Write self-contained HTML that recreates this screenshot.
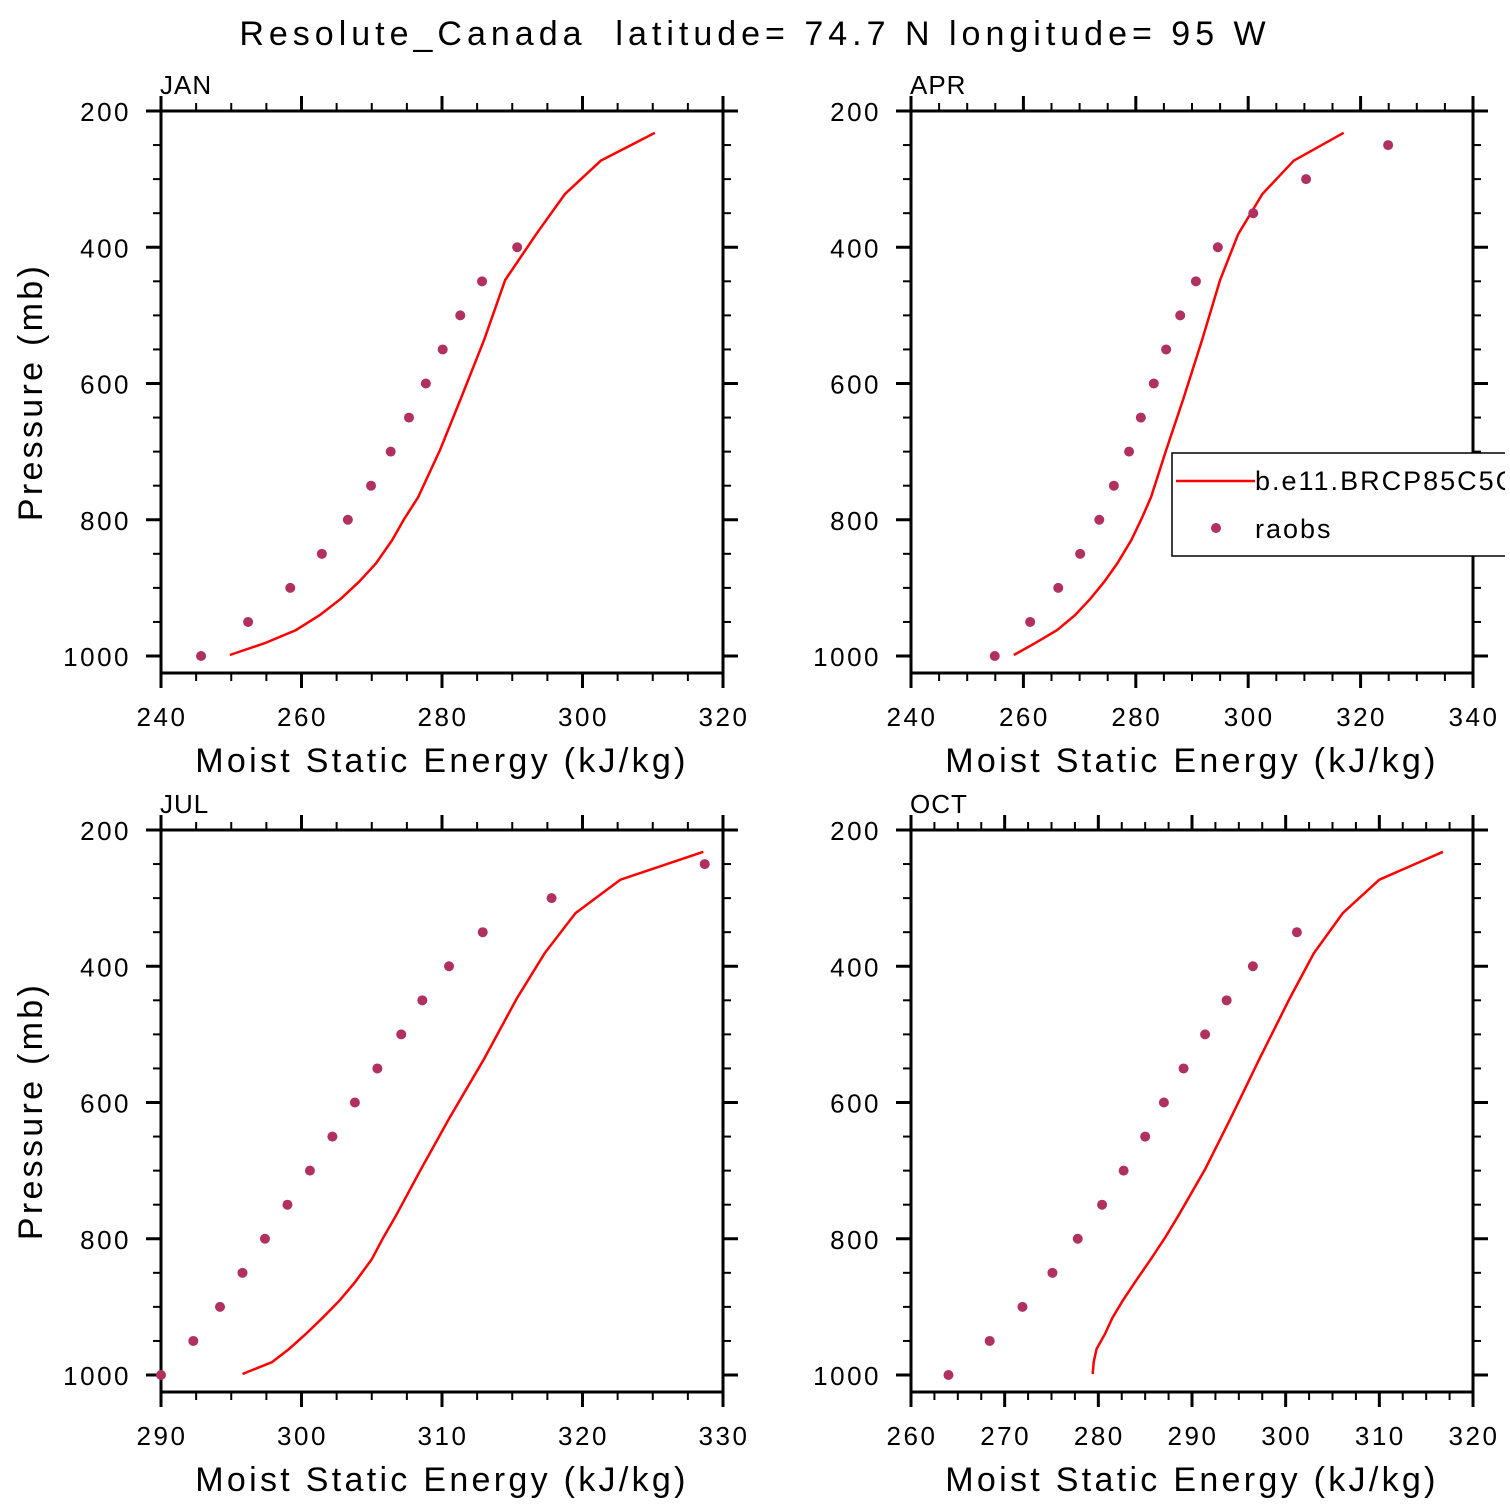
<!DOCTYPE html>
<html><head><meta charset="utf-8"><style>
html,body{margin:0;padding:0;background:#fff;}
svg{display:block;font-family:"Liberation Sans",sans-serif;}
</style></head><body>
<svg id="chart" width="1510" height="1510" viewBox="0 0 1510 1510">
<defs><clipPath id="lgclip"><rect x="0" y="0" width="1505" height="1510"/></clipPath></defs>
<text x="755" y="45" font-size="34" text-anchor="middle" letter-spacing="5" xml:space="preserve">Resolute_Canada  latitude= 74.7 N longitude= 95 W</text>
</svg>
<script>
const lineLevels=[998.5,981,962,940,916,891,864,830,799,767,698,624,536,448,381,322,273,232];
const dotLevels=[1000,950,900,850,800,750,700,650,600,550,500,450,400,350,300,250];
const janLine=[249.8,254.8,259.2,262.6,265.6,268.2,270.6,272.9,274.6,276.6,279.7,282.6,286.0,289.0,293.4,297.5,302.6,310.3];
const janDots=[245.7,252.4,258.4,262.9,266.6,269.9,272.7,275.3,277.7,280.1,282.6,285.7,290.7];
const aprLine=[258.3,262.1,266.0,269.2,271.9,274.4,276.7,279.2,281.0,282.7,285.4,288.4,291.8,295.0,298.2,302.5,308.1,317.0];
const aprDots=[254.9,261.2,266.2,270.1,273.5,276.1,278.8,280.9,283.2,285.4,287.9,290.7,294.6,300.9,310.3,324.9];
const julLine=[295.8,297.9,299.1,300.3,301.5,302.7,303.8,305.0,305.8,306.7,308.5,310.5,313.0,315.3,317.3,319.5,322.7,328.6];
const julDots=[290.0,292.3,294.2,295.8,297.4,299.0,300.6,302.2,303.8,305.4,307.1,308.6,310.5,312.9,317.8,328.7];
const octLine=[279.4,279.5,279.8,280.7,281.5,282.6,283.9,285.6,287.1,288.5,291.4,294.1,297.2,300.4,303.0,306.1,310.0,316.8];
const octDots=[264.0,268.4,271.9,275.1,277.8,280.4,282.7,285.0,287.0,289.1,291.4,293.7,296.5,301.2];
const yTicks=[200,400,600,800,1000];
const panels=[
 {name:'jan',label:'JAN',x0:161,y0:111,xmin:240,xmax:320,xmaj:20,xmin2:5,line:janLine,dots:janDots,ylab:true},
 {name:'apr',label:'APR',x0:911,y0:111,xmin:240,xmax:340,xmaj:20,xmin2:5,line:aprLine,dots:aprDots,ylab:false},
 {name:'jul',label:'JUL',x0:161,y0:830,xmin:290,xmax:330,xmaj:10,xmin2:2.5,line:julLine,dots:julDots,ylab:true},
 {name:'oct',label:'OCT',x0:911,y0:830,xmin:260,xmax:320,xmaj:10,xmin2:2.5,line:octLine,dots:octDots,ylab:false}
];
const NS='http://www.w3.org/2000/svg';
const svg=document.getElementById('chart');
function mk(tag,attrs,parent){const e=document.createElementNS(NS,tag);for(const k in attrs)e.setAttribute(k,attrs[k]);(parent||svg).appendChild(e);return e;}
const W=562,PX=0.68125,H=562;
panels.forEach(p=>{
 const g=mk('g',{});
 
 
 const xs=v=>p.x0+(v-p.xmin)/(p.xmax-p.xmin)*W;
 const ys=pr=>p.y0+(pr-200)*PX;
 const x1=p.x0+W,yb=p.y0+H;
 for(let v=p.xmin;v<=p.xmax+1e-6;v+=p.xmin2){
  const maj=Math.abs((v-p.xmin)/p.xmaj-Math.round((v-p.xmin)/p.xmaj))<1e-6;
  const L=maj?15:8,x=xs(v);
  mk('line',{x1:x,y1:p.y0,x2:x,y2:p.y0-L,stroke:'#000','stroke-width':maj?3:2},g);
  mk('line',{x1:x,y1:yb,x2:x,y2:yb+L,stroke:'#000','stroke-width':maj?3:2},g);
  if(maj){const t=mk('text',{x:x+1,y:yb+53,'font-size':26,'text-anchor':'middle','letter-spacing':'2.5'},g);t.textContent=Math.round(v);
   }
 }
 for(let pr=200;pr<=1000;pr+=50){
  const maj=pr%200===0,L=maj?15:8,y=ys(pr);
  mk('line',{x1:p.x0,y1:y,x2:p.x0-L,y2:y,stroke:'#000','stroke-width':maj?3:2},g);
  mk('line',{x1:x1,y1:y,x2:x1+L,y2:y,stroke:'#000','stroke-width':maj?3:2},g);
 }
 yTicks.forEach(pr=>{const t=mk('text',{x:p.x0-30,y:ys(pr)+10,'font-size':26,'text-anchor':'end','letter-spacing':'2.5'},g);t.textContent=pr;
  });
 const fr=mk('rect',{x:p.x0,y:p.y0,width:W,height:H,fill:'none',stroke:'#000','stroke-width':3},g);
 
 const lb=mk('text',{x:p.x0-1,y:p.y0-17,'font-size':26,'letter-spacing':'1'},g);lb.textContent=p.label;
 
 const xt=mk('text',{x:p.x0+W/2,y:yb+99,'font-size':34,'text-anchor':'middle','letter-spacing':'3.3'},g);xt.textContent='Moist Static Energy (kJ/kg)';
 
 if(p.ylab){const yt=mk('text',{x:0,y:0,'font-size':34,'text-anchor':'middle','letter-spacing':'3.3',transform:`translate(42,${p.y0+281}) rotate(-90)`},g);yt.textContent='Pressure (mb)';
  }
 const pts=p.line.map((v,i)=>xs(v).toFixed(1)+','+ys(lineLevels[i]).toFixed(1)).join(' ');
 const pl=mk('polyline',{points:pts,fill:'none',stroke:'#ff0000','stroke-width':2.5},g);
 
 p.dots.forEach((v,i)=>{const c=mk('circle',{cx:xs(v),cy:ys(dotLevels[i]),r:5,fill:'#b03060'},g);
  });
});
const lg=mk('g',{'clip-path':'url(#lgclip)'});


mk('rect',{x:1172,y:453,width:345,height:103,fill:'#fff',stroke:'#000','stroke-width':1.5},lg);
mk('line',{x1:1176,y1:481,x2:1255,y2:481,stroke:'#ff0000','stroke-width':2.5},lg);
const t1=mk('text',{x:1255,y:490,'font-size':27,'letter-spacing':'2'},lg);t1.textContent='b.e11.BRCP85C5CNBDRD';


mk('circle',{cx:1216,cy:528,r:5,fill:'#b03060'},lg);
const t2=mk('text',{x:1255,y:538,'font-size':27,'letter-spacing':'2'},lg);t2.textContent='raobs';


</script>
</body></html>
